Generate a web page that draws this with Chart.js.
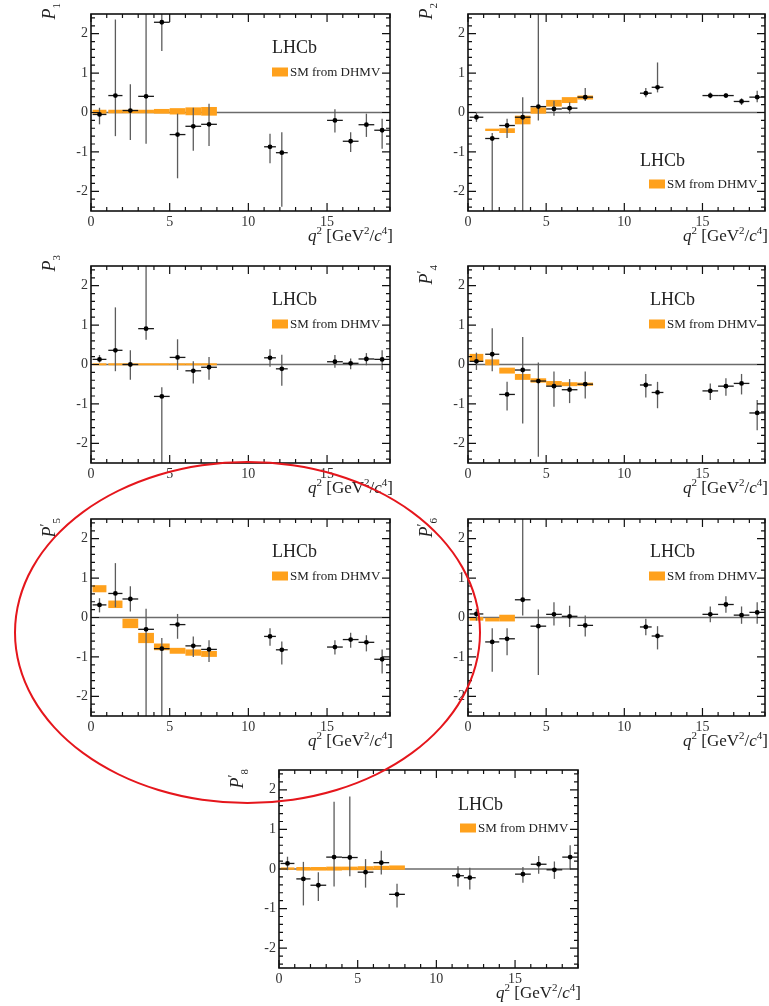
<!DOCTYPE html>
<html>
<head>
<meta charset="utf-8">
<title>LHCb angular observables</title>
<script src="https://cdn.jsdelivr.net/npm/chart.js@4.4.1/dist/chart.umd.min.js"></script>
<style>
    body { margin: 0; background: #fff; overflow: hidden; }
    #page { position: relative; width: 769px; height: 1006px; }
    .panel { position: absolute; }
    #ring {
        position: absolute; left: 14px; top: 461px; width: 467px; height: 343px;
        border: 2px solid #e5161c; border-radius: 50%; box-sizing: border-box;
        pointer-events: none; z-index: 5;
    }
</style>
</head>
<body>
<div id="page"><div id="ring"></div></div>
<script>
/* ====================================
   DATOS
   ==================================== */

// bins de q2 en GeV2/c4
const binLo = [0.1, 1.1, 2, 3, 4, 5, 6, 7, 11, 11.75, 15, 16, 17, 18];
const binHi = [0.98, 2, 3, 4, 5, 6, 7, 8, 11.75, 12.5, 16, 17, 18, 19];
const binMid = [0.54, 1.55, 2.5, 3.5, 4.5, 5.5, 6.5, 7.5, 11.375, 12.125, 15.5, 16.5, 17.5, 18.5];

// bins de la predicción SM (DHMV)
const smBinLo = [0.1, 1.1, 2, 3, 4, 5, 6, 7];
const smBinHi = [0.98, 2, 3, 4, 5, 6, 7, 8];

const xTicks = [0, 5, 10, 15];
const yTicks = [-2, -1, 0, 1, 2];

// P1
const p1Val = [-0.05, 0.43, 0.05, 0.41, 2.29, -0.56, -0.35, -0.30, -0.87, -1.02, -0.20, -0.73, -0.31, -0.45];
const p1Hi  = [0.12, 2.36, 0.72, 3, 3, -0.03, 0.12, 0.22, -0.54, -0.50, 0.08, -0.50, -0.03, -0.16];
const p1Lo  = [-0.30, -0.60, -0.70, -0.79, 1.56, -1.67, -0.97, -0.85, -1.29, -2.39, -0.51, -1.00, -0.62, -0.92];
const p1SmLo = [-0.03, -0.02, -0.02, -0.02, -0.03, -0.05, -0.07, -0.08];
const p1SmHi = [0.07, 0.07, 0.07, 0.07, 0.09, 0.11, 0.13, 0.14];

// P2
const p2Val = [-0.12, -0.66, -0.33, -0.12, 0.15, 0.09, 0.11, 0.39, 0.49, 0.64, 0.43, 0.43, 0.28, 0.39];
const p2Hi  = [0.00, -0.52, -0.16, 0.39, 3, 0.30, 0.26, 0.62, 0.62, 1.27, 0.51, 0.49, 0.36, 0.55];
const p2Lo  = [-0.24, -3, -0.65, -3, -0.20, -0.08, -0.03, 0.29, 0.39, 0.51, 0.36, 0.38, 0.19, 0.26];
const p2SmLo = [null, -0.47, -0.52, -0.30, -0.03, 0.15, 0.24, 0.33];
const p2SmHi = [null, -0.41, -0.40, -0.08, 0.13, 0.32, 0.39, 0.43];

// P3
const p3Val = [0.13, 0.36, 0.00, 0.91, -0.81, 0.18, -0.16, -0.07, 0.17, -0.11, 0.07, 0.03, 0.14, 0.13];
const p3Hi  = [0.24, 1.45, 0.36, 3, -0.58, 0.64, 0.08, 0.19, 0.39, 0.25, 0.24, 0.15, 0.29, 0.36];
const p3Lo  = [0.05, -0.17, -0.39, 0.63, -3, -0.14, -0.48, -0.39, -0.06, -0.54, -0.08, -0.12, -0.02, -0.14];
const p3SmLo = [-0.02, -0.02, -0.02, -0.02, -0.02, -0.02, -0.02, -0.02];
const p3SmHi = [0.03, 0.03, 0.03, 0.03, 0.03, 0.03, 0.03, 0.03];

// P'4
const p4Val = [0.08, 0.26, -0.76, -0.14, -0.42, -0.55, -0.64, -0.50, -0.52, -0.71, -0.67, -0.55, -0.48, -1.23];
const p4Hi  = [0.30, 0.92, -0.44, 0.70, 0.05, -0.18, -0.37, -0.18, -0.24, -0.44, -0.48, -0.35, -0.24, -0.90];
const p4Lo  = [-0.14, -0.17, -1.17, -1.50, -2.34, -1.07, -0.98, -0.86, -0.84, -1.11, -0.90, -0.79, -0.76, -1.67];
const p4SmLo = [0.08, -0.02, -0.23, -0.39, -0.46, -0.54, -0.55, -0.54];
const p4SmHi = [0.27, 0.13, -0.08, -0.24, -0.35, -0.42, -0.45, -0.46];

// P'5
const p5Val = [0.32, 0.61, 0.47, -0.30, -0.79, -0.18, -0.72, -0.81, -0.48, -0.82, -0.75, -0.56, -0.63, -1.06];
const p5Hi  = [0.49, 1.38, 0.79, 0.22, -0.52, 0.09, -0.48, -0.58, -0.27, -0.61, -0.58, -0.39, -0.45, -0.81];
const p5Lo  = [0.13, 0.26, 0.15, -3, -3, -0.54, -1.00, -1.13, -0.72, -1.19, -0.94, -0.77, -0.86, -1.42];
const p5SmLo = [0.64, 0.24, -0.27, -0.65, -0.83, -0.92, -0.97, -1.00];
const p5SmHi = [0.82, 0.43, -0.03, -0.39, -0.66, -0.77, -0.81, -0.85];

// P'6
const p6Val = [0.09, -0.62, -0.54, 0.45, -0.22, 0.08, 0.03, -0.20, -0.24, -0.47, 0.08, 0.33, 0.06, 0.13];
const p6Hi  = [0.22, -0.27, -0.27, 3, 0.20, 0.39, 0.30, 0.05, -0.03, -0.22, 0.28, 0.54, 0.28, 0.39];
const p6Lo  = [-0.08, -1.38, -0.96, 0.05, -1.46, -0.20, -0.24, -0.48, -0.45, -0.81, -0.12, 0.12, -0.16, -0.16];
const p6SmLo = [-0.08, -0.10, -0.10, null, null, null, null, null];
const p6SmHi = [0.01, -0.01, 0.07, null, null, null, null, null];

// P'8
const p8Val = [0.14, -0.25, -0.41, 0.30, 0.29, -0.08, 0.16, -0.64, -0.17, -0.22, -0.13, 0.12, -0.02, 0.30];
const p8Hi  = [0.31, 0.18, -0.08, 1.70, 1.83, 0.25, 0.46, -0.37, 0.07, 0.03, 0.05, 0.33, 0.19, 0.60];
const p8Lo  = [-0.03, -0.92, -0.81, -0.44, -0.18, -0.47, -0.14, -0.97, -0.44, -0.52, -0.35, -0.12, -0.25, -0.01];
const p8SmLo = [-0.02, -0.04, -0.04, -0.04, -0.03, -0.03, -0.02, -0.02];
const p8SmHi = [0.04, 0.05, 0.05, 0.06, 0.06, 0.07, 0.08, 0.09];

/* ====================================
   ESTILO Y DISPOSICIÓN
   ==================================== */

const SERIF = "'Liberation Serif', 'DejaVu Serif', serif";
const ORANGE = '#ffa11c';
const PAD_L = 55, PAD_T = 14, PAD_R = 4, PAD_B = 42;

const panels = [
    { sub: '1', prime: false, val: p1Val, hi: p1Hi, lo: p1Lo, smLo: p1SmLo, smHi: p1SmHi,
      box: [91, 14, 390, 211], lhcb: [181, 39], leg: [181, 58] },
    { sub: '2', prime: false, val: p2Val, hi: p2Hi, lo: p2Lo, smLo: p2SmLo, smHi: p2SmHi,
      box: [468, 14, 765, 211], lhcb: [172, 152], leg: [181, 170] },
    { sub: '3', prime: false, val: p3Val, hi: p3Hi, lo: p3Lo, smLo: p3SmLo, smHi: p3SmHi,
      box: [91, 266, 390, 463], lhcb: [181, 39], leg: [181, 58] },
    { sub: '4', prime: true, val: p4Val, hi: p4Hi, lo: p4Lo, smLo: p4SmLo, smHi: p4SmHi,
      box: [468, 266, 765, 463], lhcb: [182, 39], leg: [181, 58] },
    { sub: '5', prime: true, val: p5Val, hi: p5Hi, lo: p5Lo, smLo: p5SmLo, smHi: p5SmHi,
      box: [91, 519, 390, 716], lhcb: [181, 38], leg: [181, 57] },
    { sub: '6', prime: true, val: p6Val, hi: p6Hi, lo: p6Lo, smLo: p6SmLo, smHi: p6SmHi,
      box: [468, 519, 765, 716], lhcb: [182, 38], leg: [181, 57] },
    { sub: '8', prime: true, val: p8Val, hi: p8Hi, lo: p8Lo, smLo: p8SmLo, smHi: p8SmHi,
      box: [279, 770, 578, 968], lhcb: [179, 40], leg: [181, 58] }
];

/* ====================================
   DIBUJO
   ==================================== */

function drawParts(ctx, parts, xRight, baseY) {
    let total = 0;
    parts.forEach(p => {
        ctx.font = p.font;
        p.w = ctx.measureText(p.t).width;
        total += p.w;
    });
    let cx = xRight - total;
    ctx.textAlign = 'left';
    ctx.textBaseline = 'alphabetic';
    parts.forEach(p => {
        ctx.font = p.font;
        ctx.fillText(p.t, cx, baseY + (p.dy || 0));
        cx += p.w;
    });
}

function makePlugin(panel) {
    return {
        id: 'lhcbPanel',
        beforeDatasetsDraw(chart) {
            const { ctx, chartArea: a, scales: { x, y } } = chart;
            ctx.save();
            ctx.beginPath();
            ctx.rect(a.left, a.top, a.width, a.height);
            ctx.clip();

            // línea de cero
            const y0 = y.getPixelForValue(0);
            ctx.strokeStyle = '#6b6b6b';
            ctx.lineWidth = 1.3;
            ctx.beginPath();
            ctx.moveTo(a.left, y0);
            ctx.lineTo(a.right, y0);
            ctx.stroke();

            // cajas SM
            ctx.fillStyle = ORANGE;
            panel.smLo.forEach((lo, i) => {
                const hi = panel.smHi[i];
                if (lo === null || hi === null) return;
                const x1 = x.getPixelForValue(smBinLo[i]);
                const x2 = x.getPixelForValue(smBinHi[i]);
                let y1 = y.getPixelForValue(hi);
                let y2 = y.getPixelForValue(lo);
                if (y2 - y1 < 2) { const m = (y1 + y2) / 2; y1 = m - 1; y2 = m + 1; }
                ctx.fillRect(x1, y1, x2 - x1, y2 - y1);
            });

            // barras de error
            panel.val.forEach((v, i) => {
                const xm = x.getPixelForValue(binMid[i]);
                ctx.strokeStyle = '#5c5c5c';
                ctx.lineWidth = 1.3;
                ctx.beginPath();
                ctx.moveTo(xm, y.getPixelForValue(panel.hi[i]));
                ctx.lineTo(xm, y.getPixelForValue(panel.lo[i]));
                ctx.stroke();
                const yv = y.getPixelForValue(v);
                ctx.strokeStyle = '#1b1b1b';
                ctx.beginPath();
                ctx.moveTo(x.getPixelForValue(binLo[i]), yv);
                ctx.lineTo(x.getPixelForValue(binHi[i]), yv);
                ctx.stroke();
            });
            ctx.restore();
        },
        afterDraw(chart) {
            const { ctx, chartArea: a, scales: { x, y } } = chart;
            ctx.save();

            // marco y marcas hacia dentro
            ctx.strokeStyle = '#111';
            ctx.lineWidth = 1.6;
            ctx.strokeRect(a.left, a.top, a.width, a.height);
            ctx.lineWidth = 1.2;
            ctx.beginPath();
            for (let v = 0; v <= 19; v++) {
                const px = x.getPixelForValue(v);
                const len = v % 5 === 0 ? 8 : 4;
                ctx.moveTo(px, a.bottom); ctx.lineTo(px, a.bottom - len);
                ctx.moveTo(px, a.top); ctx.lineTo(px, a.top + len);
            }
            for (let k = -24; k <= 24; k += 2) {
                const py = y.getPixelForValue(k / 10);
                const len = k % 10 === 0 ? 8 : 4;
                ctx.moveTo(a.left, py); ctx.lineTo(a.left + len, py);
                ctx.moveTo(a.right, py); ctx.lineTo(a.right - len, py);
            }
            ctx.stroke();

            // LHCb + leyenda
            ctx.fillStyle = '#222';
            ctx.font = '18px ' + SERIF;
            ctx.textAlign = 'left';
            ctx.textBaseline = 'alphabetic';
            ctx.fillText('LHCb', a.left + panel.lhcb[0], a.top + panel.lhcb[1]);
            ctx.fillStyle = ORANGE;
            ctx.fillRect(a.left + panel.leg[0], a.top + panel.leg[1] - 4.5, 16, 9);
            ctx.fillStyle = '#222';
            ctx.font = '13px ' + SERIF;
            ctx.textBaseline = 'middle';
            ctx.fillText('SM from DHMV', a.left + panel.leg[0] + 18, a.top + panel.leg[1] + 1);

            // título eje x
            ctx.fillStyle = '#222';
            drawParts(ctx, [
                { t: 'q', font: 'italic 17px ' + SERIF },
                { t: '2', font: '11px ' + SERIF, dy: -7 },
                { t: ' [GeV', font: '17px ' + SERIF },
                { t: '2', font: '11px ' + SERIF, dy: -7 },
                { t: '/', font: '17px ' + SERIF },
                { t: 'c', font: 'italic 17px ' + SERIF },
                { t: '4', font: '11px ' + SERIF, dy: -7 },
                { t: ']', font: '17px ' + SERIF }
            ], a.right + 3, a.bottom + 30);

            // título eje y (rotado, alineado arriba)
            ctx.translate(a.left - 36, a.top + (panel.prime ? -1 : -11));
            ctx.rotate(-Math.PI / 2);
            const parts = [{ t: 'P', font: 'italic 18px ' + SERIF, dy: 0 }];
            if (panel.prime) parts.push({ t: '\u2032', font: '14px ' + SERIF, dy: -5 });
            parts.push({ t: panel.sub, font: '11px ' + SERIF, dy: 5 });
            drawParts(ctx, parts, 0, 0);
            ctx.restore();
        }
    };
}

const page = document.getElementById('page');

panels.forEach((panel, idx) => {
    const [L, T, R, B] = panel.box;
    const w = PAD_L + (R - L) + PAD_R;
    const h = PAD_T + (B - T) + PAD_B;
    const wrap = document.createElement('div');
    wrap.className = 'panel';
    wrap.style.left = (L - PAD_L) + 'px';
    wrap.style.top = (T - PAD_T) + 'px';
    const canvas = document.createElement('canvas');
    canvas.id = 'panel' + idx;
    canvas.width = w;
    canvas.height = h;
    canvas.style.width = w + 'px';
    canvas.style.height = h + 'px';
    wrap.appendChild(canvas);
    page.appendChild(wrap);

    new Chart(canvas, {
        type: 'scatter',
        data: {
            datasets: [{
                data: panel.val.map((v, i) => ({ x: binMid[i], y: v })),
                backgroundColor: '#000',
                borderColor: '#000',
                pointRadius: 2.4,
                pointBorderWidth: 0
            }]
        },
        options: {
            responsive: false,
            animation: false,
            devicePixelRatio: 1,
            events: [],
            layout: { padding: { left: 0, top: PAD_T, right: PAD_R, bottom: 0 } },
            plugins: { legend: { display: false }, tooltip: { enabled: false } },
            scales: {
                x: {
                    type: 'linear', min: 0, max: 19,
                    grid: { display: false, drawTicks: false }, border: { display: false },
                    afterBuildTicks: s => { s.ticks = xTicks.map(v => ({ value: v })); },
                    afterFit: s => { s.height = PAD_B; },
                    ticks: { padding: 3, maxRotation: 0, color: '#333', font: { family: SERIF, size: 14 } }
                },
                y: {
                    type: 'linear', min: -2.5, max: 2.5,
                    grid: { display: false, drawTicks: false }, border: { display: false },
                    afterBuildTicks: s => { s.ticks = yTicks.map(v => ({ value: v })); },
                    afterFit: s => { s.width = PAD_L; },
                    ticks: { padding: 3, color: '#333', font: { family: SERIF, size: 14 } }
                }
            }
        },
        plugins: [makePlugin(panel)]
    });
});
</script>
</body>
</html>
